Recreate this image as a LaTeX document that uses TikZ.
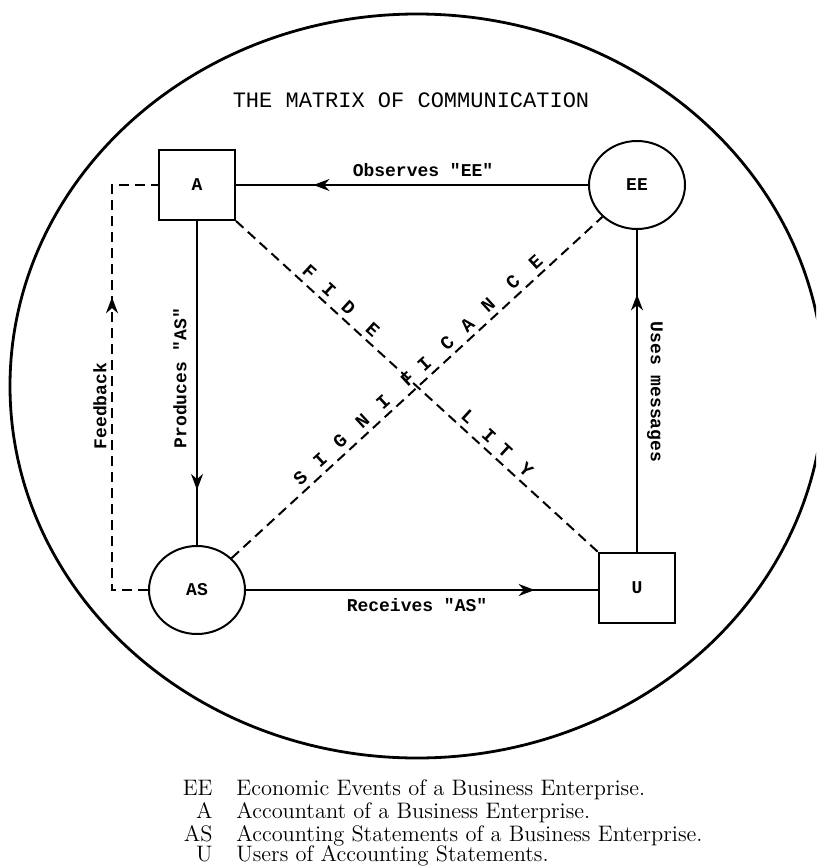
\documentclass[tikz,border=0pt]{standalone}
\usepackage{fontspec}
\setmonofont{Liberation Mono}
\usetikzlibrary{arrows.meta}
\usetikzlibrary{positioning, shapes.geometric, decorations.markings}
\tikzset{
party/.style = { rectangle, draw = black, line width = 1pt, fill = white, minimum width = 38pt, minimum height = 35pt, inner sep = 0pt, font = \ttfamily\bfseries\fontsize{9}{10}\selectfont },
report/.style = { ellipse, draw = black, line width = 1pt, fill = white, minimum width = 48pt, minimum height = 44pt, inner sep = 0pt, font = \ttfamily\bfseries\fontsize{9}{10}\selectfont },
flow/.style = { draw = black, line width = 1pt },
link/.style = { draw = black, line width = 1pt, dash pattern = on 5pt off 3pt },
tip at/.style = { decoration = { markings, mark = at position #1 with {\arrow{Stealth[length = 8pt, width = 6pt]}} }, postaction = decorate },
flow text/.style = { font = \ttfamily\bfseries\fontsize{9}{10}\selectfont, inner sep = 0pt },
spaced letter/.style = { font = \ttfamily\bfseries\fontsize{9.5}{10}\selectfont, sloped, above = 2.5pt, inner sep = 0pt },
key text/.style = { font = \fontsize{11.2}{12}\selectfont, inner sep = 0pt },
}

\begin{document}
\begin{tikzpicture}[x = 0.5pt, y = -0.5pt]
    \clip (0,0) rectangle (816,866);
    \draw[line width = 1.4pt] (417,386) ellipse [x radius = 407, y radius = 372];
    \node[font = \ttfamily\fontsize{11}{12}\selectfont, inner sep = 0pt] (title) at (411,100) {THE MATRIX OF COMMUNICATION};
    \begin{scope}
      \node[party] (A) at (197,185) {A};
      \node[report] (EE) at (637,185) {EE};
      \node[report] (AS) at (197,590) {AS};
      \node[party] (U) at (637,588) {U};
      \coordinate (fb low) at (112,590);
      \coordinate (fb high) at (112,185);
    \end{scope}
    \begin{scope}
      \path [flow, tip at = 0.78] (EE) -- (A);
      \node[flow text] (observes) at (423,170) {Observes  "EE"};
      \path [flow, tip at = 0.83] (A) -- (AS);
      \node[flow text, rotate = 90] (produces) at (180,378) {Produces  "AS"};
      \path [flow, tip at = 0.82] (AS) -- (AS -| U.west);
      \node[flow text] (receives) at (417,605) {Receives  "AS"};
      \path [flow, tip at = 0.80] (U) -- (EE);
      \node[flow text, rotate = -90] (uses) at (655,392) {Uses messages};
      \path [link, tip at = 0.675] (AS) -- (fb low) -- (fb high) -- (A);
      \node[flow text, rotate = 90] (feedback) at (100,406) {Feedback};
    \end{scope}
    \begin{scope}
      \path [link] (A.south east) -- (U.north west)
        foreach \l/\p in {F/0.18, I/0.234, D/0.288, E/0.355, L/0.619, I/0.676, T/0.721, Y/0.779} {
          node[spaced letter, pos = \p] {\l}
        };
      \path [link] (AS) -- (EE)
        foreach \l/\p in {S/0.208, I/0.261, G/0.315, N/0.375, I/0.431, F/0.497, I/0.542, C/0.604, A/0.658, N/0.714, C/0.781, E/0.842} {
          node[spaced letter, pos = \p] {\l}
        };
    \end{scope}
    \begin{scope}[every node/.style = {key text}]
      \node[anchor = base east] (k1) at (213,795) {EE};
      \node[anchor = base west] (d1) at (236,795) {Economic Events of a Business Enterprise.};
      \node[anchor = base east] (k2) at (213,818) {A};
      \node[anchor = base west] (d2) at (236,818) {Accountant of a Business Enterprise.};
      \node[anchor = base east] (k3) at (213,841) {AS};
      \node[anchor = base west] (d3) at (236,841) {Accounting Statements of a Business Enterprise.};
      \node[anchor = base east] (k4) at (213,861) {U};
      \node[anchor = base west] (d4) at (236,861) {Users of Accounting Statements.};
    \end{scope}
\end{tikzpicture}
\end{document}
